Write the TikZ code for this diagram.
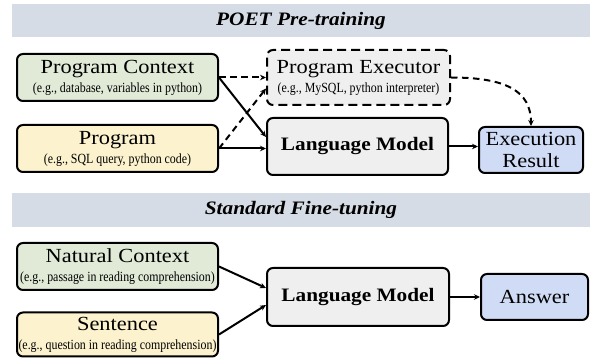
\documentclass[tikz,border=0pt]{standalone}
\usepackage{fontspec}
\setmainfont[FakeStretch=1.12]{Liberation Serif}
\newfontfamily\subfont[FakeStretch=0.85]{Liberation Serif}
\usetikzlibrary{arrows.meta}
\definecolor{bannerc}{RGB}{214,220,229}
\definecolor{greenc}{RGB}{224,234,215}
\definecolor{yellowc}{RGB}{252,242,206}
\definecolor{grayc}{RGB}{239,239,239}
\definecolor{bluec}{RGB}{208,220,246}
\newcommand{\mt}{\fontsize{20}{22}\selectfont}
\newcommand{\st}{\subfont\fontsize{14}{15}\selectfont}
\tikzset{
  box/.style={draw=black, line width=2pt, rounded corners=6pt, inner sep=0pt, align=center, font=\mt},
  banner/.style={fill=bannerc, inner sep=0pt, font=\fontsize{19}{21}\selectfont\bfseries\itshape},
  arr/.style={line width=2pt, -{Stealth[length=6pt,width=5.5pt]}},
  dasharr/.style={arr, dash pattern=on 6.5pt off 4.5pt},
}
\begin{document}
\begin{tikzpicture}[x=1pt,y=-1pt]
\useasboundingbox (0,0) rectangle (590,358);
% banners
\node[banner, minimum width=578pt, minimum height=33pt] (b1) at (301,20.5) {POET Pre-training};
\node[banner, minimum width=578pt, minimum height=34pt] (b2) at (301,210) {Standard Fine-tuning};
% top section
\node[box, fill=greenc, minimum width=201pt, minimum height=47pt] (ctx) at (117.5,77.5)
  {Program Context\\[-3pt]\st (e.g., database, variables in python)};
\node[box, fill=yellowc, minimum width=201pt, minimum height=47pt] (prog) at (117.5,148.5)
  {Program\\[-3pt]\st (e.g., SQL query, python code)};
\node[box, fill=grayc, dash pattern=on 9pt off 5pt, minimum width=183pt, minimum height=55pt] (exec) at (358.5,77.5)
  {Program Executor\\[-3pt]\st (e.g., MySQL, python interpreter)};
\node[box, fill=grayc, minimum width=181pt, minimum height=57pt] (lm1) at (357.5,146.5)
  {\fontsize{19}{21}\selectfont\bfseries Language Model};
\node[box, fill=bluec, minimum width=104pt, minimum height=46pt] (res) at (531,150)
  {Execution\\Result};
% bottom section
\node[box, fill=greenc, minimum width=201pt, minimum height=47pt] (nat) at (117.5,266.5)
  {Natural Context\\[-3pt]\st (e.g., passage in reading comprehension)};
\node[box, fill=yellowc, minimum width=201pt, minimum height=44pt] (sen) at (117.5,334.5)
  {Sentence\\[-3pt]\st (e.g., question in reading comprehension)};
\node[box, fill=grayc, minimum width=182pt, minimum height=58pt] (lm2) at (358,297)
  {\fontsize{19}{21}\selectfont\bfseries Language Model};
\node[box, fill=bluec, minimum width=107pt, minimum height=46pt] (ans) at (534.5,297)
  {Answer};
% arrows top
\draw[dasharr] (ctx.east) -- (exec.west);
\draw[arr] (ctx.east) -- ([yshift=9.5pt]lm1.west);
\draw[arr] (prog.east) -- (lm1.west |- prog.east);
\draw[dasharr] (prog.east) -- ([yshift=-11pt]exec.west);
\draw[dasharr] (exec.east) .. controls ([xshift=55pt]exec.east) and ([yshift=35pt]res.north) .. (res.north);
\draw[arr] (lm1.east) -- (res.west |- lm1.east);
% arrows bottom
\draw[arr] (nat.east) -- ([yshift=9pt]lm2.west);
\draw[arr] (sen.east) -- ([yshift=-8pt]lm2.west);
\draw[arr] (lm2.east) -- (ans.west);
\end{tikzpicture}
\end{document}
